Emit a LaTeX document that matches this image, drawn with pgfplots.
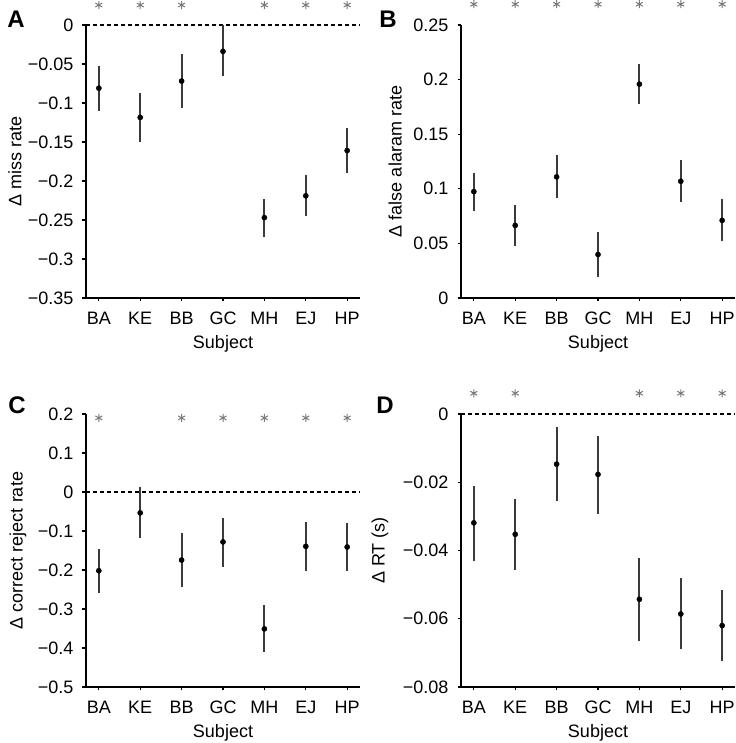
\documentclass[border=0pt]{standalone}
\usepackage{pgfplots}
\usepackage{pgfplotstable}
\pgfplotsset{compat=1.18}
\usepackage{fontspec}
\setmainfont{Liberation Sans}
\definecolor{ebar}{HTML}{3A3A3A}
\definecolor{star}{HTML}{7A7A7A}

\pgfplotstableread{
x y lo hi
1 -0.081 -0.110 -0.052
2 -0.1185 -0.1498 -0.0877
3 -0.0719 -0.1061 -0.0372
4 -0.0338 -0.065 0.0
5 -0.247 -0.2713 -0.2225
6 -0.219 -0.245 -0.192
7 -0.161 -0.190 -0.132
}\tabA
\pgfplotstableread{
x y lo hi
1 0.0974 0.080 0.1146
2 0.0665 0.0478 0.0852
3 0.1109 0.0913 0.1305
4 0.0398 0.0196 0.0607
5 0.1958 0.1777 0.2139
6 0.1069 0.0882 0.1262
7 0.0711 0.0524 0.0904
}\tabB
\pgfplotstableread{
x y lo hi
1 -0.2019 -0.259 -0.146
2 -0.0536 -0.1188 0.0123
3 -0.1745 -0.243 -0.106
4 -0.128 -0.1916 -0.0656
5 -0.351 -0.411 -0.291
6 -0.1393 -0.2036 -0.076
7 -0.141 -0.2036 -0.080
}\tabC
\pgfplotstableread{
x y lo hi
1 -0.0319 -0.0431 -0.02096
2 -0.03525 -0.0457 -0.025
3 -0.0147 -0.0256 -0.0039
4 -0.0177 -0.0292 -0.0064
5 -0.0543 -0.0665 -0.0423
6 -0.0586 -0.069 -0.0481
7 -0.062 -0.0725 -0.0515
}\tabD

\pgfplotsset{
  panel/.style={
    scale only axis, width=274pt, height=273pt,
    xmin=0.69, xmax=7.31,
    xtick={1,2,3,4,5,6,7},
    xticklabels={BA,KE,BB,GC,MH,EJ,HP},
    axis x line*=bottom, axis y line*=left,
    axis line style={line width=1.2pt,-},
    tick align=outside, major tick length=3.5pt,
    tick style={line width=1.2pt, black},
    clip=false,
    scaled y ticks=false,
    tick label style={font=\fontsize{18}{21}\selectfont},
    label style={font=\fontsize{18}{21}\selectfont},
    xlabel={Subject},
    xlabel style={at={(axis description cs:0.5,-0.167)}, anchor=center},
    xticklabel style={inner sep=2pt, yshift=-8.5pt},
    yticklabel style={inner sep=2pt, xshift=-7pt},
  },
  datapts/.style={
    only marks, mark=*, mark size=2.6pt, mark options={fill=black, draw=black},
    error bars/.cd, y dir=both, y explicit,
    error mark=none,
    error bar style={line width=2pt, ebar},
  },
  stars/.style={only marks, mark=asterisk, mark size=4pt, star, mark options={line width=1pt}},
  zeroline/.style={black, line width=1.2pt, dash pattern=on 4pt off 3pt},
}
\newcommand{\dataplot}[1]{%
  \addplot[datapts] table[x=x, y=y,
    y error plus expr=\thisrow{hi}-\thisrow{y},
    y error minus expr=\thisrow{y}-\thisrow{lo}] {#1};}

\begin{document}
\begin{tikzpicture}
\useasboundingbox (0,0) rectangle (735pt,743pt);

% Panel A
\begin{axis}[panel, at={(86pt,445pt)}, anchor=south west,
  ymin=-0.35, ymax=0,
  ytick={-0.35,-0.3,-0.25,-0.2,-0.15,-0.1,-0.05,0},
  yticklabels={−0.35,−0.3,−0.25,−0.2,−0.15,−0.1,−0.05,0},
  ylabel={Δ miss rate},
  ylabel style={at={(axis description cs:-0.259,0.5)}, anchor=center}]
\addplot[zeroline] coordinates {(0.69,0) (7.31,0)};
\dataplot{\tabA}
\addplot[stars] coordinates {(1,0.0256) (2,0.0256) (3,0.0256) (5,0.0256) (6,0.0256) (7,0.0256)};
\end{axis}

% Panel B
\begin{axis}[panel, at={(461pt,445pt)}, anchor=south west,
  ymin=0, ymax=0.25,
  ytick={0,0.05,0.1,0.15,0.2,0.25},
  yticklabels={0,0.05,0.1,0.15,0.2,0.25},
  ylabel={Δ false alaram rate},
  ylabel style={at={(axis description cs:-0.24,0.5)}, anchor=center}]
\dataplot{\tabB}
\addplot[stars] coordinates {(1,0.269) (2,0.269) (3,0.269) (4,0.269) (5,0.269) (6,0.269) (7,0.269)};
\end{axis}

% Panel C
\begin{axis}[panel, at={(86pt,56pt)}, anchor=south west,
  ymin=-0.5, ymax=0.2,
  ytick={-0.5,-0.4,-0.3,-0.2,-0.1,0,0.1,0.2},
  yticklabels={−0.5,−0.4,−0.3,−0.2,−0.1,0,0.1,0.2},
  ylabel={Δ correct reject rate},
  ylabel style={at={(axis description cs:-0.248,0.5)}, anchor=center}]
\addplot[zeroline] coordinates {(0.69,0) (7.31,0)};
\dataplot{\tabC}
\addplot[stars] coordinates {(1,0.19) (3,0.19) (4,0.19) (5,0.19) (6,0.19) (7,0.19)};
\end{axis}

% Panel D
\begin{axis}[panel, at={(461pt,56pt)}, anchor=south west,
  ymin=-0.08, ymax=0,
  ytick={-0.08,-0.06,-0.04,-0.02,0},
  yticklabels={−0.08,−0.06,−0.04,−0.02,0},
  ylabel={Δ RT (s)},
  ylabel style={at={(axis description cs:-0.296,0.5)}, anchor=center}]
\addplot[zeroline] coordinates {(0.69,0) (7.31,0)};
\dataplot{\tabD}
\addplot[stars] coordinates {(1,0.00607) (2,0.00607) (5,0.00607) (6,0.00607) (7,0.00607)};
\end{axis}

\node[font=\fontsize{24}{26}\selectfont\bfseries] at (16pt,724pt) {A};
\node[font=\fontsize{24}{26}\selectfont\bfseries] at (388pt,724pt) {B};
\node[font=\fontsize{24}{26}\selectfont\bfseries] at (17pt,338pt) {C};
\node[font=\fontsize{24}{26}\selectfont\bfseries] at (385pt,338pt) {D};
\end{tikzpicture}
\end{document}
